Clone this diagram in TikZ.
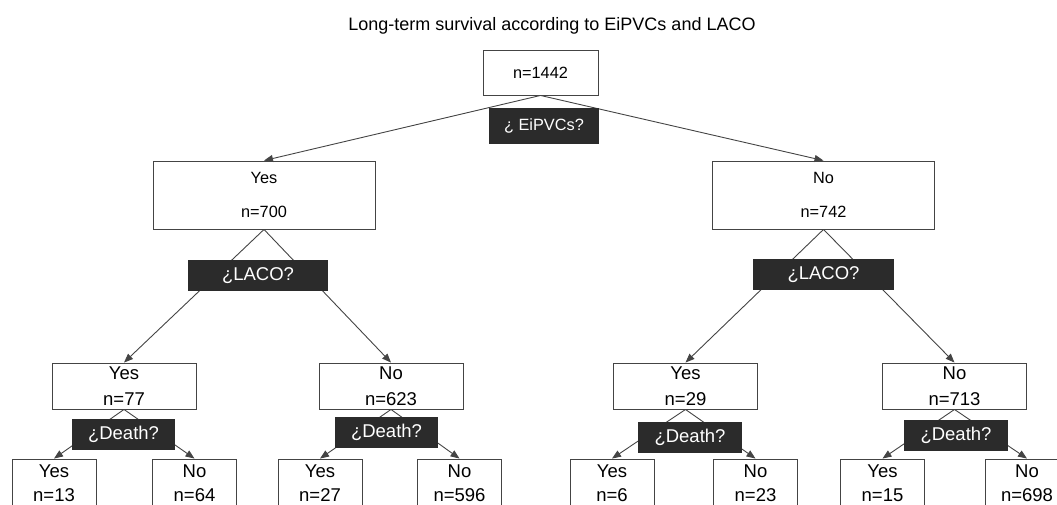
\documentclass[tikz,border=0pt]{standalone}
\usepackage{fontspec}
\setmainfont{Liberation Sans}
\usepackage{xcolor}
\usetikzlibrary{arrows.meta,positioning}
\definecolor{qdark}{HTML}{2B2B2B}
\definecolor{linegray}{HTML}{444444}

\tikzset{
    box/.style={draw=linegray, line width=0.9pt, fill=white, inner sep=0pt, align=center},
    bigbox/.style={box, minimum width=222pt, minimum height=68pt, font=\fontsize{16.3}{34}\selectfont},
    midbox/.style={box, minimum width=144pt, minimum height=46pt, font=\fontsize{18.5}{26}\selectfont},
    leafbox/.style={box, minimum width=84pt, minimum height=48pt, font=\fontsize{18.5}{24}\selectfont},
    question/.style={fill=qdark, text=white, inner sep=0pt, minimum height=31pt, font=\fontsize{18.5}{20}\selectfont},
    branch/.style={draw=linegray, line width=0.9pt, -{Triangle[length=9pt,width=7pt]}}
}

\begin{document}
\begin{tikzpicture}[x=1pt, y=-1pt]
    \useasboundingbox (0,0) rectangle (1057,504);
    \clip (0,0) rectangle (1057,504);

    \node[anchor=base, font=\fontsize{18}{20}\selectfont] (title) at (552,30) {Long-term survival according to EiPVCs and LACO};

    % first split
    \node[box, minimum width=115pt, minimum height=45pt, font=\fontsize{16.3}{20}\selectfont] (root) at (540.5,72.5) {n=1442};
    \node[bigbox] (yesE) at (264,195) {Yes\\n=700};
    \node[bigbox] (noE) at (823.5,195) {No\\n=742};

    % second split
    \node[midbox] (yesEyesL) at (124,386) {Yes\\n=77};
    \node[midbox] (yesEnoL) at (391,386) {No\\n=623};
    \node[midbox] (noEyesL) at (685.5,386) {Yes\\n=29};
    \node[midbox] (noEnoL) at (954.5,386) {No\\n=713};

    % leaves
    \node[leafbox] (leafA) at (54,483) {Yes\\n=13};
    \node[leafbox] (leafB) at (194.5,483) {No\\n=64};
    \node[leafbox] (leafC) at (320,483) {Yes\\n=27};
    \node[leafbox] (leafD) at (459.5,483) {No\\n=596};
    \node[leafbox] (leafE) at (612,483) {Yes\\n=6};
    \node[leafbox] (leafF) at (755.5,483) {No\\n=23};
    \node[leafbox] (leafG) at (882.5,483) {Yes\\n=15};
    \node[leafbox] (leafH) at (1027,483) {No\\n=698};

    % branches
    \draw[branch] (root.south) -- (yesE.north);
    \draw[branch] (root.south) -- (noE.north);
    \draw[branch] (yesE.south) -- (yesEyesL.north);
    \draw[branch] (yesE.south) -- (yesEnoL.north);
    \draw[branch] (noE.south) -- (noEyesL.north);
    \draw[branch] (noE.south) -- (noEnoL.north);
    \draw[branch] (yesEyesL.south) -- (leafA.north);
    \draw[branch] (yesEyesL.south) -- (leafB.north);
    \draw[branch] (yesEnoL.south) -- (leafC.north);
    \draw[branch] (yesEnoL.south) -- (leafD.north);
    \draw[branch] (noEyesL.south) -- (leafE.north);
    \draw[branch] (noEyesL.south) -- (leafF.north);
    \draw[branch] (noEnoL.south) -- (leafG.north);
    \draw[branch] (noEnoL.south) -- (leafH.north);

    % questions
    \node[question, minimum width=110pt, minimum height=36pt, font=\fontsize{16.3}{20}\selectfont] (askE) at (544,126) {¿ EiPVCs?};
    \node[question, minimum width=140pt] (askLa) at (258,275.5) {¿LACO?};
    \node[question, minimum width=141pt] (askLb) at (823.5,274.5) {¿LACO?};
    \node[question, minimum width=103pt] (askDa) at (123.5,434.5) {¿Death?};
    \node[question, minimum width=103pt] (askDb) at (386.5,432.5) {¿Death?};
    \node[question, minimum width=104pt] (askDc) at (690,437) {¿Death?};
    \node[question, minimum width=104pt] (askDd) at (956,435) {¿Death?};
\end{tikzpicture}
\end{document}
